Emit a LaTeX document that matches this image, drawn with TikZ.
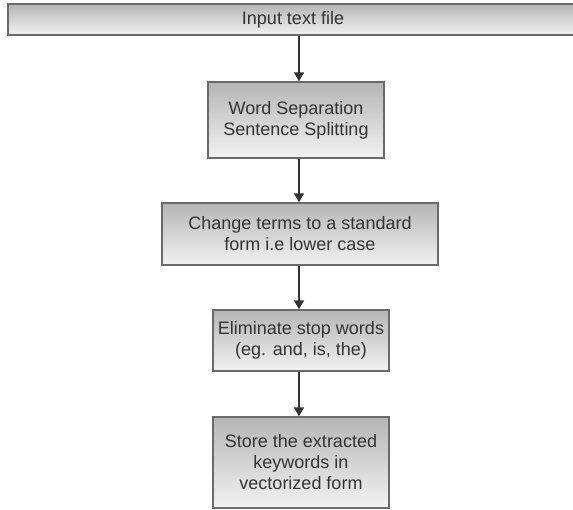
\documentclass[tikz,border=0pt]{standalone}
\usepackage{fontspec}
\setmainfont{Liberation Sans}
\usetikzlibrary{arrows.meta}
\definecolor{boxedge}{HTML}{6A6A6A}
\definecolor{boxtop}{HTML}{B5B5B5}
\definecolor{boxbottom}{HTML}{F2F2F2}
\definecolor{inktext}{HTML}{333333}
\definecolor{inkline}{HTML}{333333}
\tikzset{
  flowbox/.style={draw=boxedge, line width=1.4pt, top color=boxtop, bottom color=boxbottom,
    text=inktext, align=center, inner sep=0pt,
    font=\fontsize{18}{21}\selectfont},
  flowarrow/.style={draw=inkline, line width=1.5pt,
    -{Triangle[length=9pt,width=10pt]}}
}
\begin{document}
\begin{tikzpicture}[x=1pt,y=-1pt]
  \useasboundingbox (0,0) rectangle (573,510);
  \coordinate (axis) at (299,0);

  \node[flowbox, minimum width=570pt, minimum height=31pt] (input) at (293,19.5) {Input text file};
  \node[flowbox, minimum width=176pt, minimum height=76pt] (split) at (296,120)
    {Word Separation\\Sentence Splitting};
  \node[flowbox, minimum width=276pt, minimum height=62pt] (lower) at (300,234)
    {Change terms to a standard\\form i.e lower case};
  \node[flowbox, minimum width=176pt, minimum height=61pt] (stop) at (301,340.5)
    {Eliminate stop words\\(eg. and, is, the)};
  \node[flowbox, minimum width=176pt, minimum height=91pt] (store) at (301,462.5)
    {Store the extracted\\keywords in\\vectorized form};

  \draw[flowarrow] (input.south -| axis) -- (split.north -| axis);
  \draw[flowarrow] (split.south -| axis) -- (lower.north -| axis);
  \draw[flowarrow] (lower.south -| axis) -- (stop.north -| axis);
  \draw[flowarrow] (stop.south -| axis) -- (store.north -| axis);
\end{tikzpicture}
\end{document}
